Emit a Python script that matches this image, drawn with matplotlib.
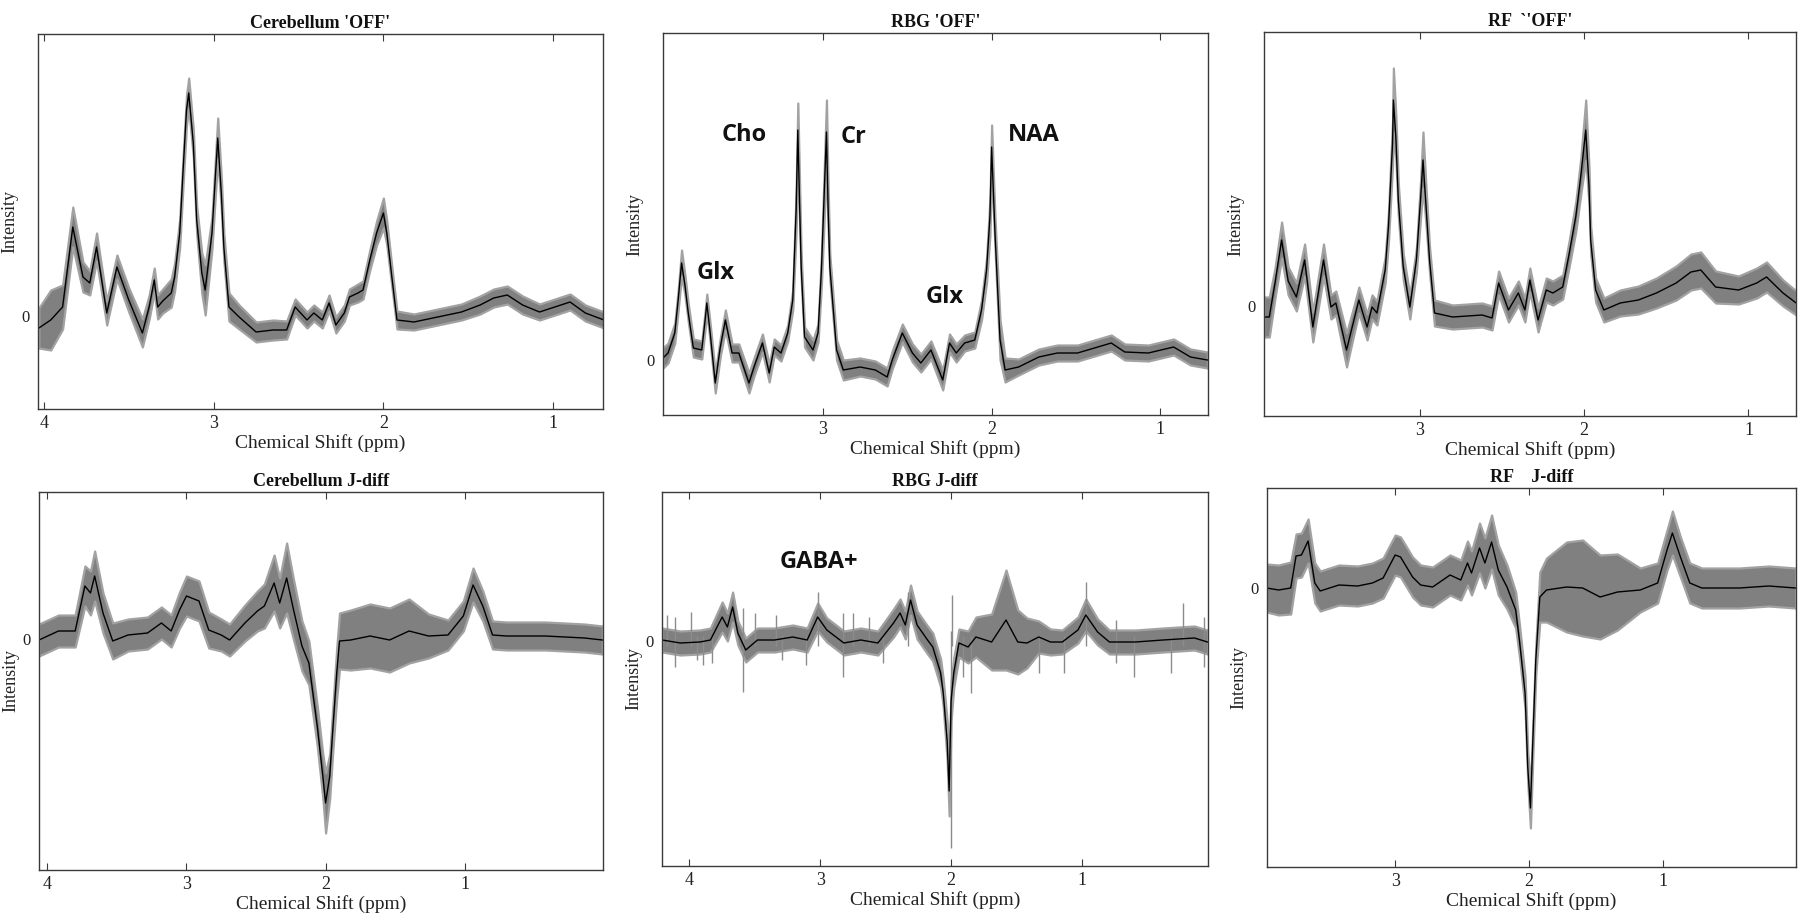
import matplotlib
matplotlib.use('Agg')
import matplotlib.pyplot as plt
import numpy as np

# ---- Cerebellum 'OFF' ----
cb_off_ppm = [4.03, 3.96, 3.89, 3.83, 3.77, 3.73, 3.69, 3.63, 3.57, 3.50, 3.42, 3.38, 3.35, 3.33,
              3.30, 3.25, 3.23, 3.20, 3.18, 3.16, 3.147, 3.12, 3.10, 3.07, 3.05, 3.01, 2.99, 2.976,
              2.955, 2.94, 2.91, 2.85, 2.75, 2.65, 2.57, 2.52, 2.45, 2.41, 2.36, 2.32, 2.28, 2.23,
              2.20, 2.15, 2.12, 2.08, 2.04, 2.00, 1.98, 1.95, 1.92, 1.82, 1.68, 1.54, 1.43, 1.35,
              1.27, 1.18, 1.08, 0.99, 0.90, 0.81, 0.70]
cb_off_mean = [-12, -4, 9, 89, 39, 33, 69, 3, 49, 16, -17, 9, 36, 9,
               15, 23, 39, 83, 146, 206, 223, 173, 96, 43, 26, 83, 139, 178,
               123, 69, 9, -1, -16, -14, -14, 9, -4, 3, -4, 13, -9, 3,
               19, 23, 26, 56, 83, 103, 83, 39, -4, -6, -1, 4, 11, 18,
               21, 11, 4, 9, 14, 3, -4]
cb_off_sd = [20, 30, 22, 20, 15, 12, 14, 12, 12, 12, 14, 12, 12, 12,
             12, 14, 14, 14, 14, 15, 15, 14, 14, 20, 25, 16, 18, 20,
             16, 14, 14, 12, 10, 10, 9, 8, 8, 8, 8, 8, 8, 8,
             8, 9, 9, 10, 12, 15, 12, 10, 9, 8, 8, 8, 9, 9,
             9, 9, 8, 8, 8, 8, 8]

# ---- RBG 'OFF' ----
rbg_off_ppm = [3.95, 3.92, 3.88, 3.86, 3.84, 3.82, 3.80, 3.77, 3.72, 3.70, 3.69, 3.67, 3.64, 3.61,
               3.58, 3.54, 3.50, 3.44, 3.41, 3.36, 3.32, 3.29, 3.25, 3.21, 3.18, 3.16, 3.15, 3.14,
               3.13, 3.11, 3.06, 3.03, 3.01, 2.98, 2.97, 2.96, 2.92, 2.88, 2.78, 2.69, 2.62, 2.59,
               2.53, 2.47, 2.42, 2.36, 2.29, 2.25, 2.21, 2.16, 2.10, 2.06, 2.03, 2.01, 2.00, 1.99,
               1.98, 1.95, 1.92, 1.84, 1.72, 1.61, 1.49, 1.37, 1.29, 1.21, 1.07, 0.92, 0.82, 0.72]
rbg_off_mean = [2, 7, 27, 60, 97, 75, 47, 12, 10, 40, 57, 27, -23, 13,
                40, 7, 7, -23, -7, 17, -13, 13, 7, 27, 60, 150, 230, 160,
                93, 23, 10, 27, 90, 228, 150, 93, 10, -10, -7, -10, -17, 0,
                27, 7, -3, 10, -20, 17, 7, 17, 20, 50, 90, 143, 213, 170,
                127, 20, -10, -7, 3, 7, 7, 13, 17, 8, 7, 13, 3, 0]
rbg_off_sd = [10, 10, 10, 10, 13, 10, 9, 9, 9, 9, 9, 9, 10, 9,
              10, 9, 9, 10, 9, 9, 9, 8, 8, 8, 10, 20, 27, 20,
              12, 10, 10, 9, 15, 32, 20, 12, 10, 10, 9, 9, 9, 9,
              9, 9, 9, 9, 10, 9, 9, 8, 8, 10, 12, 18, 22, 18,
              15, 20, 12, 8, 8, 8, 8, 8, 8, 8, 8, 8, 8, 8]

# ---- RF 'OFF' ----
rf_off_ppm = [3.947, 3.915, 3.88, 3.84, 3.80, 3.75, 3.70, 3.65, 3.585, 3.54, 3.51, 3.445, 3.40, 3.37,
              3.32, 3.29, 3.26, 3.21, 3.19, 3.165, 3.16, 3.145, 3.13, 3.10, 3.06, 3.02, 2.995, 2.98,
              2.96, 2.94, 2.91, 2.80, 2.62, 2.56, 2.52, 2.46, 2.40, 2.36, 2.33, 2.28, 2.23, 2.19,
              2.13, 2.09, 2.05, 2.02, 1.99, 1.97, 1.96, 1.93, 1.88, 1.78, 1.67, 1.56, 1.44, 1.35,
              1.29, 1.20, 1.06, 0.95, 0.89, 0.79, 0.71]
rf_off_mean = [-11, -11, 23, 66, 25, 9, 46, -21, 46, -1, 3, -44, -14, 6,
               -21, -1, -7, 36, 79, 163, 206, 169, 106, 39, -1, 46, 106, 146,
               96, 46, -7, -11, -9, -12, 23, -4, 13, -4, 26, -14, 16, 13,
               19, 53, 90, 130, 176, 120, 66, 16, -4, 3, 6, 13, 23, 34,
               36, 19, 16, 23, 29, 13, 3]
rf_off_sd = [20, 20, 15, 18, 14, 14, 16, 15, 16, 12, 12, 17, 14, 13,
             13, 12, 12, 13, 15, 22, 32, 22, 16, 13, 12, 12, 18, 28,
             18, 13, 13, 12, 12, 12, 12, 12, 12, 12, 12, 12, 12, 12,
             12, 13, 15, 18, 30, 18, 14, 12, 12, 13, 14, 15, 17, 18,
             18, 16, 14, 15, 15, 13, 12]

# ---- Cerebellum J-diff ----
cb_jd_ppm = [4.06, 3.92, 3.80, 3.73, 3.69, 3.66, 3.60, 3.53, 3.42, 3.28, 3.18, 3.11, 3.05, 3.00,
             2.91, 2.84, 2.75, 2.69, 2.58, 2.49, 2.44, 2.37, 2.33, 2.28, 2.23, 2.17, 2.12, 2.06,
             2.02, 2.00, 1.97, 1.95, 1.92, 1.90, 1.82, 1.68, 1.54, 1.40, 1.26, 1.12, 1.01, 0.94,
             0.87, 0.80, 0.70, 0.42, 0.14, 0.01]
cb_jd_mean = [-1, 8, 8, 53, 46, 63, 26, -2, 4, 6, 16, 8, 29, 43,
              38, 9, 4, -1, 16, 28, 33, 56, 36, 61, 29, -7, -24, -87,
              -137, -164, -137, -94, -34, -2, -1, 3, -1, 8, 3, 4, 23, 54,
              33, 4, 3, 3, 1, -1]
cb_jd_sd = [16, 16, 16, 20, 22, 25, 20, 18, 16, 16, 16, 16, 18, 20,
            20, 18, 16, 16, 18, 20, 22, 28, 25, 35, 30, 25, 22, 20,
            22, 30, 22, 22, 25, 28, 30, 32, 32, 32, 22, 15, 15, 17,
            15, 14, 14, 14, 14, 14]

# ---- RBG J-diff ----
rbg_jd_ppm = [4.21, 4.07, 3.92, 3.84, 3.75, 3.71, 3.67, 3.63, 3.57, 3.48, 3.35, 3.21, 3.10, 3.02,
              2.95, 2.82, 2.69, 2.56, 2.44, 2.39, 2.35, 2.31, 2.26, 2.18, 2.14, 2.08, 2.06, 2.03,
              2.015, 2.00, 1.98, 1.94, 1.87, 1.81, 1.69, 1.58, 1.49, 1.42, 1.33, 1.24, 1.15, 1.03,
              0.97, 0.88, 0.79, 0.59, 0.38, 0.14, 0.04]
rbg_jd_mean = [1, -2, -1, 1, 24, 14, 34, 8, -9, 1, 1, 4, 1, 24,
               11, -2, 1, -2, 18, 28, 16, 41, 16, 1, -6, -32, -52, -100,
               -150, -60, -32, -2, -6, 4, -1, 21, -1, -2, 4, -1, -1, 11,
               26, 9, -1, -1, 1, 3, -1]
rbg_jd_sd = [12, 12, 12, 12, 15, 14, 15, 12, 12, 12, 12, 12, 12, 14,
             12, 12, 12, 12, 14, 14, 14, 15, 14, 14, 14, 14, 14, 20,
             25, 20, 15, 14, 16, 20, 28, 50, 32, 25, 16, 13, 12, 13,
             16, 13, 12, 12, 12, 12, 12]
# thin single-scan spikes sticking out of the RBG J-diff band
rbg_spike_ppm = [4.17, 4.11, 3.99, 3.94, 3.90, 3.83, 3.59, 3.50, 3.34, 3.29, 3.11, 3.02, 2.83,
                 2.75, 2.63, 2.52, 2.33, 2.00, 1.99, 1.91, 1.85, 1.33, 1.14, 0.97, 0.74,
                 0.60, 0.32, 0.23, 0.07]
rbg_spike_lo = [-5, -26, -5, -19, -24, -22, -51, -5, -5, -19, -24, -5, -36,
                -5, -5, -22, -5, -207, -5, -36, -52, -32, -32, -5, -22,
                -36, -32, -5, -26]
rbg_spike_hi = [26, 24, 29, 5, 5, 5, 33, 28, 26, 5, 5, 49, 28,
                28, 24, 5, 49, 10, 46, 5, 5, 5, 5, 59, 21,
                5, 5, 38, 24]

# ---- RF J-diff ----
rf_jd_ppm = [3.96, 3.87, 3.78, 3.74, 3.70, 3.65, 3.60, 3.56, 3.42, 3.28, 3.17, 3.09, 3.00, 2.96,
             2.87, 2.81, 2.72, 2.59, 2.51, 2.46, 2.43, 2.37, 2.33, 2.28, 2.23, 2.165, 2.10, 2.07,
             2.03, 2.01, 1.99, 1.97, 1.95, 1.92, 1.87, 1.72, 1.60, 1.47, 1.34, 1.17, 1.04, 0.97,
             0.93, 0.87, 0.80, 0.71, 0.43, 0.21, 0.01]
rf_jd_mean = [0, -2, 0, 32, 33, 47, 5, -3, 3, 2, 5, 10, 33, 31,
              11, 3, 1, 13, 8, 25, 15, 40, 25, 46, 18, 1, -22, -55,
              -105, -179, -220, -145, -72, -9, -2, 1, 0, -9, -4, -2, 5, 38,
              55, 31, 5, 0, 0, 2, 0]
rf_jd_sd = [24, 25, 26, 22, 22, 22, 20, 20, 20, 20, 20, 20, 20, 20,
            20, 20, 20, 20, 20, 22, 22, 25, 25, 27, 25, 22, 18, 16,
            16, 16, 20, 16, 15, 25, 32, 45, 48, 42, 38, 22, 20, 20,
            22, 20, 20, 20, 20, 20, 20]

titles = ["Cerebellum 'OFF'", "RBG 'OFF'", "RF  `'OFF'",
          "Cerebellum J-diff", "RBG J-diff", "RF    J-diff"]
x_limits = [(4.035, 0.706), (3.95, 0.716), (3.947, 0.711),
            (4.06, 0.006), (4.21, 0.036), (3.957, 0.007)]
y_limits = [(-93, 282), (-55, 327), (-110, 274),
            (-231, 147), (-225, 149), (-279, 100)]
x_ticks = [[4, 3, 2, 1], [3, 2, 1], [3, 2, 1], [4, 3, 2, 1], [4, 3, 2, 1], [3, 2, 1]]

# axes boxes in reference pixels: left, top, right, bottom
boxes = [(38, 34, 603, 409), (663, 33, 1208, 415), (1264, 32, 1796, 416),
         (39, 492, 603, 870), (662, 492, 1208, 866), (1267, 488, 1796, 867)]

spectra = [(cb_off_ppm, cb_off_mean, cb_off_sd), (rbg_off_ppm, rbg_off_mean, rbg_off_sd),
           (rf_off_ppm, rf_off_mean, rf_off_sd), (cb_jd_ppm, cb_jd_mean, cb_jd_sd),
           (rbg_jd_ppm, rbg_jd_mean, rbg_jd_sd), (rf_jd_ppm, rf_jd_mean, rf_jd_sd)]

W, H = 1800, 916
band_col = '#808080'
edge_col = '#3a3a3a'
serif = 'Liberation Serif'

fig = plt.figure(figsize=(W / 100, H / 100), dpi=100)
axes = []
for i, (l, t, r, b) in enumerate(boxes):
    ax = fig.add_axes([l / W, 1 - b / H, (r - l) / W, (b - t) / H])
    ppm, mean, sd = [np.array(a, dtype=float) for a in spectra[i]]
    # soft lighter fringe, then the solid sd band
    ax.fill_between(ppm, mean - sd, mean + sd, facecolor=band_col, edgecolor='#a2a2a2', linewidth=1.6)
    if i == 4:
        ax.vlines(rbg_spike_ppm, rbg_spike_lo, rbg_spike_hi, color='#8c8c8c', linewidth=1.0)
    ax.plot(ppm, mean, color='black', linewidth=1.0)
    ax.set_xlim(*x_limits[i])
    ax.set_ylim(*y_limits[i])
    ax.set_xticks(x_ticks[i])
    ax.set_xticklabels([str(v) for v in x_ticks[i]], fontfamily=serif, fontsize=13, color='#222222')
    ax.set_yticks([0])
    ax.set_yticklabels(['0'], fontfamily=serif, fontsize=12, color='#222222')
    ax.tick_params(axis='x', direction='in', top=True, length=5, width=0.8, color=edge_col, pad=4)
    ax.tick_params(axis='y', length=0, pad=6)
    for s in ax.spines.values():
        s.set_color(edge_col)
        s.set_linewidth(1.0)
    ax.set_title(titles[i], fontfamily=serif, fontweight='bold', fontsize=13, pad=4, color='#111111')
    ax.set_xlabel('Chemical Shift (ppm)', fontfamily=serif, fontsize=14, labelpad=2, color='#222222')
    ax.set_ylabel('Intensity', fontfamily=serif, fontsize=13, labelpad=2, color='#222222')
    axes.append(ax)

# metabolite labels
lab = dict(fontfamily='Open Sans', fontweight='bold', fontsize=17, ha='center', va='center', color='#111111')
axes[1].text(3.47, 225, 'Cho', **lab)
axes[1].text(2.82, 223, 'Cr', **lab)
axes[1].text(1.75, 225, 'NAA', **lab)
axes[1].text(3.64, 87, 'Glx', **lab)
axes[1].text(2.28, 63, 'Glx', **lab)
axes[4].text(3.01, 79, 'GABA+', **lab)

fig.savefig('out.png', dpi=100)
